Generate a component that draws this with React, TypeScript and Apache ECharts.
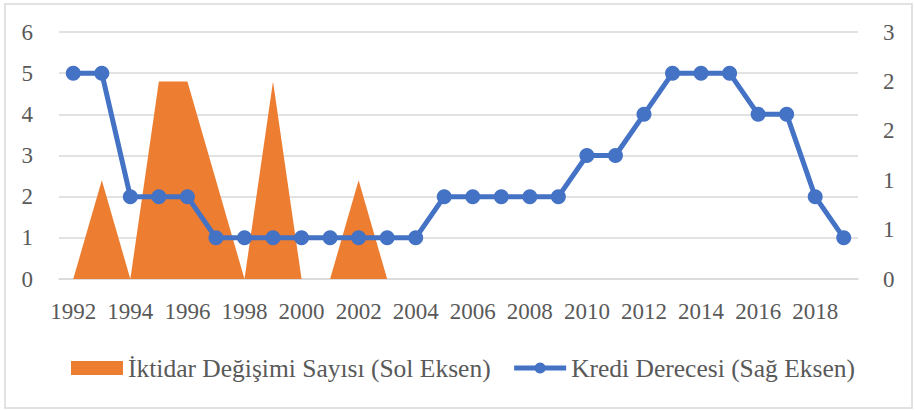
import React, { useEffect, useRef } from "react";
import * as echarts from "echarts";

const years = [
  "1992", "1993", "1994", "1995", "1996", "1997", "1998", "1999", "2000", "2001",
  "2002", "2003", "2004", "2005", "2006", "2007", "2008", "2009", "2010", "2011",
  "2012", "2013", "2014", "2015", "2016", "2017", "2018", "2019",
];
// Left axis (Sol Eksen)
const iktidarDegisimi = [
  0, 2.4, 0, 4.8, 4.8, 2.4, 0, 4.8, 0, 0, 2.4, 0, 0, 0,
  0, 0, 0, 0, 0, 0, 0, 0, 0, 0, 0, 0, 0, 0,
];
// Right axis (Sağ Eksen)
const krediDerecesi = [
  2.5, 2.5, 1, 1, 1, 0.5, 0.5, 0.5, 0.5, 0.5, 0.5, 0.5, 0.5, 1,
  1, 1, 1, 1, 1.5, 1.5, 2, 2.5, 2.5, 2.5, 2, 2, 1, 0.5,
];
const leftAxis = { min: 0, max: 6, interval: 1 };
const rightAxis = { min: 0, max: 3, interval: 0.6 };
const seriesNames = ["İktidar Değişimi Sayısı (Sol Eksen)", "Kredi Derecesi (Sağ Eksen)"];

const FONT = "Liberation Serif";
const TEXT = "#595959";
const ORANGE = "#ED7D31";
const BLUE = "#4472C4";

export default function App() {
  const ref = useRef<HTMLDivElement>(null);
  useEffect(() => {
    document.body.style.margin = "0";
    const chart = echarts.init(ref.current!, undefined, { renderer: "svg" });
    chart.setOption({
      animation: false,
      textStyle: { fontFamily: FONT },
      grid: { left: 59, right: 57, top: 32, bottom: 131, containLabel: false },
      graphic: [
        {
          type: "rect",
          shape: { x: 5, y: 4, width: 907, height: 404 },
          style: { fill: "none", stroke: "#d9d9d9", lineWidth: 1.5 },
          silent: true,
        },
      ],
      legend: {
        left: 71,
        top: 355,
        padding: 0,
        itemWidth: 52,
        itemHeight: 14,
        itemGap: 21,
        textStyle: { fontFamily: FONT, fontSize: 25.5, color: TEXT },
        data: [
          { name: seriesNames[0], icon: "rect" },
          { name: seriesNames[1], lineStyle: { width: 5, color: BLUE } },
        ],
      },
      xAxis: {
        type: "category",
        data: years,
        boundaryGap: true,
        axisLine: { lineStyle: { color: "#d9d9d9", width: 1.5 } },
        axisTick: { show: false },
        axisLabel: { interval: 1, color: TEXT, fontSize: 23, fontFamily: FONT, margin: 21 },
      },
      yAxis: [
        {
          type: "value",
          ...leftAxis,
          axisLine: { show: false },
          axisTick: { show: false },
          splitLine: { lineStyle: { color: "#d9d9d9", width: 1.5 } },
          axisLabel: { color: TEXT, fontSize: 23, fontFamily: FONT, margin: 26 },
        },
        {
          type: "value",
          ...rightAxis,
          position: "right",
          axisLine: { show: false },
          axisTick: { show: false },
          splitLine: { show: false },
          axisLabel: {
            color: TEXT, fontSize: 23, fontFamily: FONT, margin: 25,
            formatter: (v: number) => String(Math.round(v)),
          },
        },
      ],
      series: [
        {
          name: seriesNames[0],
          type: "line",
          yAxisIndex: 0,
          data: iktidarDegisimi,
          symbol: "none",
          lineStyle: { width: 0 },
          itemStyle: { color: ORANGE },
          areaStyle: { color: ORANGE, opacity: 1 },
          z: 1,
        },
        {
          name: seriesNames[1],
          type: "line",
          yAxisIndex: 1,
          data: krediDerecesi,
          symbol: "circle",
          symbolSize: 15,
          lineStyle: { width: 5, color: BLUE },
          itemStyle: { color: BLUE },
          z: 3,
        },
      ],
    });
    return () => chart.dispose();
  }, []);
  return <div ref={ref} style={{ width: 915, height: 410 }} />;
}
